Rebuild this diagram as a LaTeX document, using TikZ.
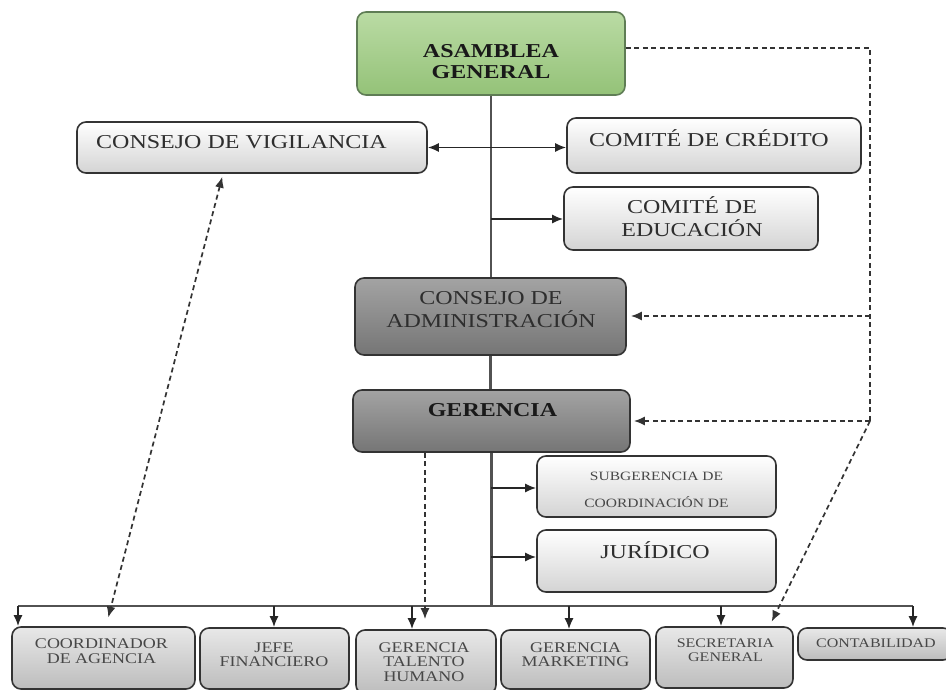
\documentclass[tikz,border=0pt]{standalone}
\usepackage{fontspec}
\setmainfont{Liberation Serif}
\usepackage{graphicx}
\usetikzlibrary{arrows.meta}
\newcommand{\sqz}[1]{\scalebox{1}[0.82]{\begin{tabular}{@{}c@{}}#1\end{tabular}}}
\definecolor{grtop}{RGB}{186,219,164}
\definecolor{grbot}{RGB}{148,194,120}
\definecolor{grdraw}{RGB}{95,125,85}
\begin{document}
\begin{tikzpicture}[x=1pt,y=-1pt,
  box/.style={draw=black!80, line width=1.6pt, rounded corners=9pt, inner sep=0pt},
  lightbox/.style={box, top color=white, bottom color=black!17},
  lowbox/.style={box, top color=black!9, bottom color=black!26},
  darkbox/.style={box, top color=black!36, bottom color=black!54},
  greenbox/.style={box, draw=grdraw, top color=grtop, bottom color=grbot},
  txt/.style={inner sep=0pt, text=black!82},
  fbig/.style={txt, font=\fontsize{24}{25}\selectfont},
  fbigb/.style={txt, font=\fontsize{24}{25}\selectfont\bfseries, text=black!90},
  fmid/.style={txt, font=\fontsize{18}{17.5}\selectfont, text=black!72},
  fsmall/.style={txt, font=\fontsize{16}{17}\selectfont, text=black!72},
  fsub/.style={txt, font=\fontsize{15.5}{33.5}\selectfont, text=black!72},
  tip/.style={-{Latex[length=11pt,width=9pt]}},
  conn/.style={draw=black!68, line width=2.4pt},
  arr/.style={draw=black!85, line width=1.7pt, tip},
  dline/.style={draw=black!80, line width=1.7pt, dash pattern=on 5pt off 3.5pt},
  darr/.style={dline, tip},
]
\useasboundingbox (0,0) rectangle (946,690);

% boxes
\node[greenbox, minimum width=268pt, minimum height=83pt] (asm) at (491,53.5) {};
\node[lightbox, minimum width=350pt, minimum height=51pt] (vig) at (252,147.5) {};
\node[lightbox, minimum width=294pt, minimum height=55pt] (cred) at (714,145.5) {};
\node[lightbox, minimum width=254pt, minimum height=63pt] (edu) at (691,218.5) {};
\node[darkbox, minimum width=271pt, minimum height=77pt] (adm) at (490.5,316.5) {};
\node[darkbox, minimum width=277pt, minimum height=62pt] (ger) at (491.5,421) {};
\node[lightbox, minimum width=239pt, minimum height=61pt] (sub) at (656.5,486.5) {};
\node[lightbox, minimum width=239pt, minimum height=62pt] (jur) at (656.5,561) {};
\node[lowbox, minimum width=183pt, minimum height=62pt] (b1) at (103.5,658) {};
\node[lowbox, minimum width=149pt, minimum height=61pt] (b2) at (274.5,658.5) {};
\node[lowbox, minimum width=140pt, minimum height=64pt] (b3) at (426,662) {};
\node[lowbox, minimum width=149pt, minimum height=59pt] (b4) at (575.5,659.5) {};
\node[lowbox, minimum width=137pt, minimum height=61pt] (b5) at (724.5,657.5) {};
\node[lowbox, minimum width=154pt, minimum height=32pt] (b6) at (875,644) {};

% texts
\node[fbigb] (asmT) at (491,64) {\sqz{ASAMBLEA\\GENERAL}};
\node[fbig] (vigT) at (241.5,144) {\sqz{CONSEJO DE VIGILANCIA}};
\node[fbig] (credT) at (709,141) {\sqz{COMITÉ DE CRÉDITO}};
\node[fbig] (eduT) at (692,219.5) {\sqz{COMITÉ DE\\EDUCACIÓN}};
\node[fbig] (admT) at (491,312) {\sqz{CONSEJO DE\\ADMINISTRACIÓN}};
\node[fbigb] (gerT) at (492.5,412.5) {\sqz{GERENCIA}};
\node[fsub] (subT) at (656.5,488.5) {\sqz{SUBGERENCIA DE\\COORDINACIÓN DE}};
\node[fbig] (jurT) at (655,553) {\sqz{JURÍDICO}};
\node[fmid] (b1T) at (101.5,653) {\sqz{COORDINADOR\\DE AGENCIA}};
\node[fmid] (b2T) at (274,656.5) {\sqz{JEFE\\FINANCIERO}};
\node[fmid] (b3T) at (424,664) {\sqz{GERENCIA\\TALENTO\\HUMANO}};
\node[fmid] (b4T) at (575.5,656.5) {\sqz{GERENCIA\\MARKETING}};
\node[fsmall] (b5T) at (725.5,652) {\sqz{SECRETARIA\\GENERAL}};
\node[fsmall] (b6T) at (876,645) {\sqz{CONTABILIDAD}};

% main trunk
\coordinate (bc) at (491,606);
\coordinate (bl) at (18,606);
\coordinate (br) at (913,606);
\draw[conn] (asm.south) -- (asm.south |- adm.north);
\draw[conn] (adm.south) -- (adm.south |- ger.north);
\draw[conn] (ger.south) -- (ger.south |- bc);
\draw[conn] (bl) -- (br);

% branches
\coordinate (e0) at (491,219);
\coordinate (s0) at (491,488);
\coordinate (j0) at (491,557);
\draw[arr, {Latex[length=11pt,width=9pt]}-{Latex[length=11pt,width=9pt]}] (vig.east) -- (vig.east -| cred.west);
\draw[arr] (e0) -- (e0 -| edu.west);
\draw[arr] (s0) -- (s0 -| sub.west);
\draw[arr] (j0) -- (j0 -| jur.west);

% bus drops
\coordinate (k2) at (274,606);
\coordinate (k3) at (412,606);
\coordinate (k4) at (569,606);
\coordinate (k5) at (721,606);
\coordinate (k6) at (913,606);
\draw[arr] (bl) -- (bl |- b1.north);
\draw[arr] (k2) -- (k2 |- b2.north);
\draw[arr] (k3) -- (k3 |- b3.north);
\draw[arr] (k4) -- (k4 |- b4.north);
\draw[arr] (k5) -- (k5 |- b5.north);
\draw[arr] (k6) -- (k6 |- b6.north);

% dashed relations
\coordinate (dc1) at (870,48);
\coordinate (dc2) at (870,421);
\coordinate (dc3) at (870,316);
\draw[dline] (asm.east |- dc1) -- (dc1) -- (dc2);
\draw[darr, shorten >=4pt] (dc3) -- (dc3 -| adm.east);
\draw[darr, shorten >=3pt] (dc2) -- (dc2 -| ger.east);
\draw[darr, shorten >=5pt] (dc2) -- ([xshift=45pt]b5.north);
\draw[darr, {Latex[length=11pt,width=9pt]}-{Latex[length=11pt,width=9pt]}, shorten <=3pt, shorten >=9pt] ([xshift=-29pt]vig.south) -- ([xshift=2.5pt]b1.north);
\draw[darr, shorten >=10pt] ([xshift=-66.5pt]ger.south) -- ([xshift=-66.5pt]ger.south |- b3.north);
\end{tikzpicture}
\end{document}
